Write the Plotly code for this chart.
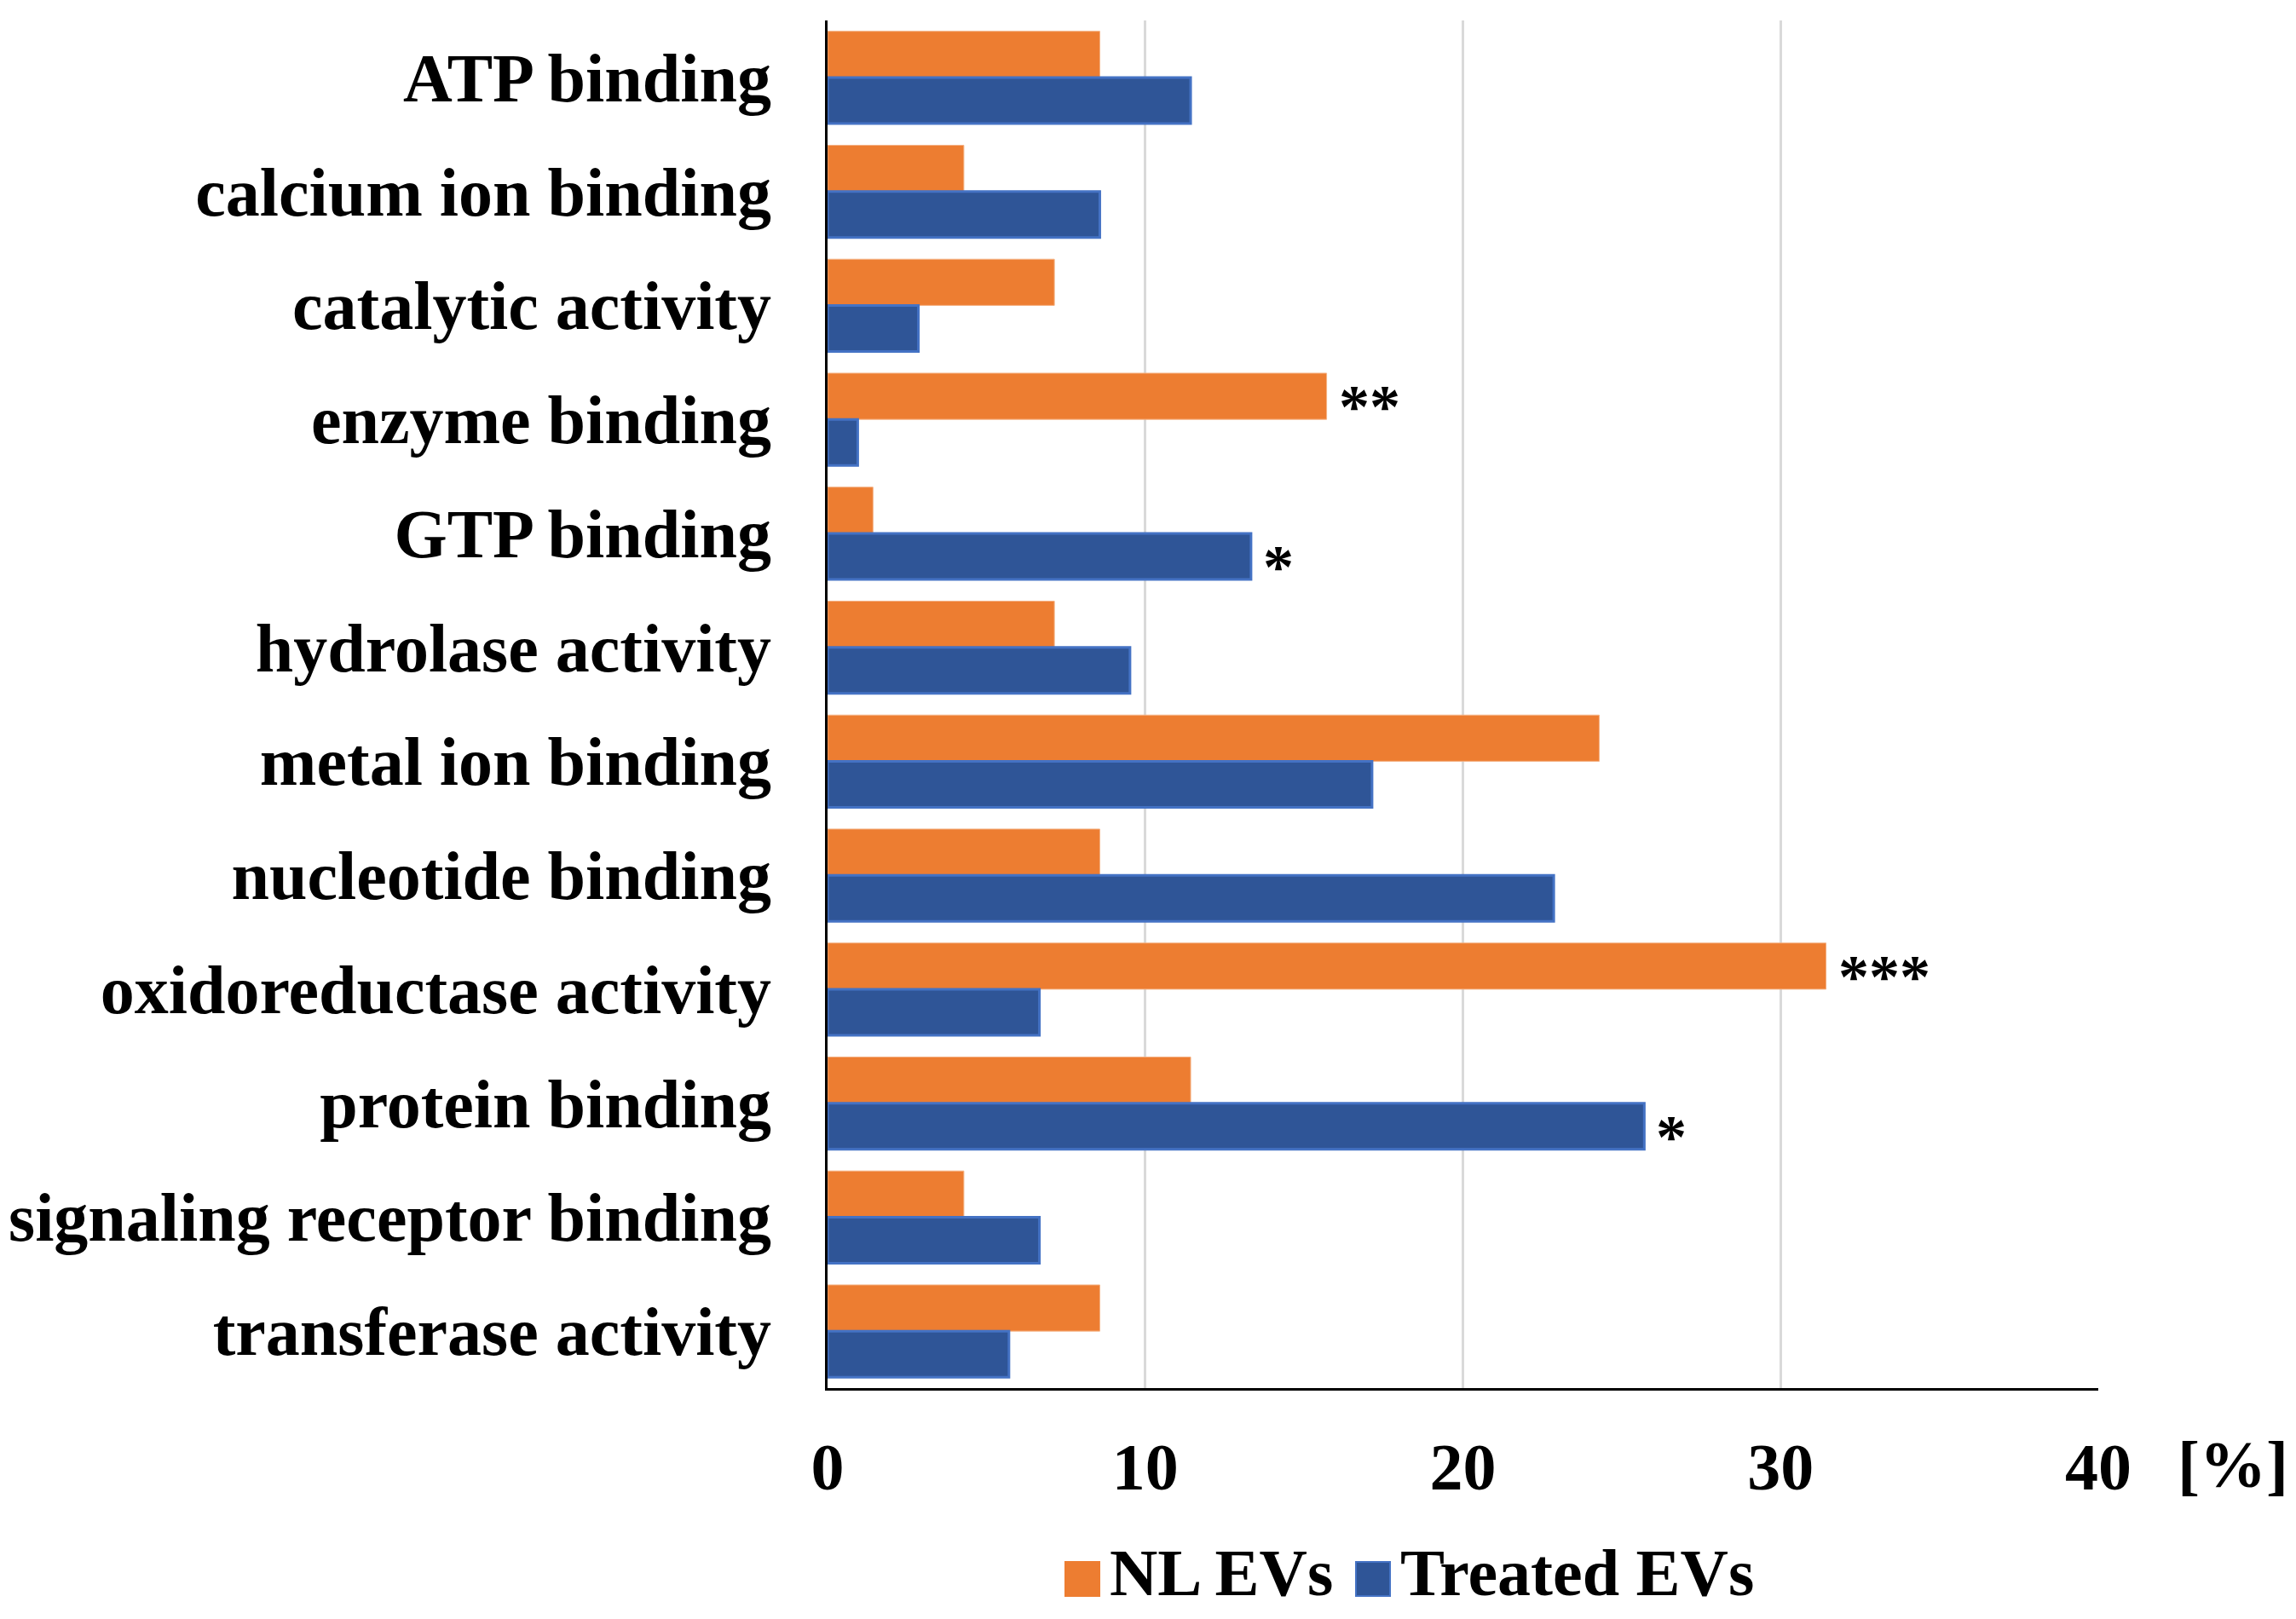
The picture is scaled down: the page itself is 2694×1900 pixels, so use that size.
import plotly.graph_objects as go

categories = ["ATP binding", "calcium ion binding", "catalytic activity", "enzyme binding",
              "GTP binding", "hydrolase activity", "metal ion binding", "nucleotide binding",
              "oxidoreductase activity", "protein binding", "signaling receptor binding",
              "transferase activity"]
nl_evs = [8.57, 4.29, 7.14, 15.71, 1.43, 7.14, 24.29, 8.57, 31.43, 11.43, 4.29, 8.57]
treated_evs = [11.43, 8.57, 2.86, 0.95, 13.33, 9.52, 17.14, 22.86, 6.67, 25.71, 6.67, 5.71]
sig_nl = ["", "", "", "**", "", "", "", "", "***", "", "", ""]
sig_treated = ["", "", "", "", "*", "", "", "", "", "*", "", ""]
x_ticks = [0, 10, 20, 30, 40]

OFF = 8  # default page body margin
W, H = 2694 - 2 * OFF, 1900 - 2 * OFF
L, R, T, B = 971 - OFF, 2462 - OFF, 24 - OFF, 1629 - OFF
FONT = "Liberation Serif"
ORANGE = "#ED7D31"
BLUE = "#2F5597"

def px(x):
    return (x - OFF - L) / (R - L)

def py(y):
    return (B - (y - OFF)) / (B - T)

fig = go.Figure()
fig.add_trace(go.Bar(y=categories, x=nl_evs, orientation="h", name="NL EVs",
                     marker=dict(color=ORANGE, line=dict(color="#F4B183", width=1))))
fig.add_trace(go.Bar(y=categories, x=treated_evs, orientation="h", name="Treated EVs",
                     marker=dict(color=BLUE, line=dict(color="#4472C4", width=3))))

off = 0.203
annotations = []
for i, (s, v) in enumerate(zip(sig_nl, nl_evs)):
    if s:
        annotations.append(dict(x=v, y=i - off, xref="x", yref="y", text="<b>" + s + "</b>",
                                showarrow=False, xanchor="left", yanchor="middle",
                                xshift=12, yshift=-12,
                                font=dict(family=FONT, size=72, color="black")))
for i, (s, v) in enumerate(zip(sig_treated, treated_evs)):
    if s:
        annotations.append(dict(x=v, y=i + off, xref="x", yref="y", text="<b>" + s + "</b>",
                                showarrow=False, xanchor="left", yanchor="middle",
                                xshift=12, yshift=-12,
                                font=dict(family=FONT, size=72, color="black")))

annotations.append(dict(x=px(2620), y=py(1718), xref="paper", yref="paper", text="<b>[%]</b>",
                        showarrow=False, xanchor="center", yanchor="middle",
                        font=dict(family=FONT, size=78, color="black")))

# manual legend
shapes = []
legend_items = [("NL EVs", ORANGE, None, 1250, 1300), ("Treated EVs", BLUE, "#4472C4", 1591, 1641)]
for name, col, lc, sx, tx in legend_items:
    shapes.append(dict(type="rect", xref="paper", yref="paper",
                       x0=px(sx), x1=px(sx + 40), y0=py(1873), y1=py(1833),
                       fillcolor=col, line=dict(color=lc if lc else col, width=2)))
    annotations.append(dict(x=px(tx), y=py(1891), xref="paper", yref="paper",
                            text="<b>" + name + "</b>", showarrow=False,
                            xanchor="left", yanchor="bottom",
                            font=dict(family=FONT, size=78, color="black")))

fig.update_layout(
    width=W, height=H,
    margin=dict(l=L, r=W - R, t=T, b=H - B, pad=0, autoexpand=False),
    paper_bgcolor="white", plot_bgcolor="white",
    barmode="group", bargap=0.19, bargroupgap=0,
    showlegend=False,
    font=dict(family=FONT, color="black"),
    annotations=annotations, shapes=shapes,
)
fig.update_xaxes(range=[0, 40], tickvals=x_ticks, ticktext=["<b>%d</b>" % t for t in x_ticks],
                 showgrid=True, gridcolor="#D9D9D9", gridwidth=3, automargin=False,
                 showline=True, linecolor="black", linewidth=3,
                 zeroline=False, ticks="", ticklabelstandoff=22,
                 tickfont=dict(family=FONT, size=78, color="black"))
fig.update_yaxes(categoryorder="array", categoryarray=categories, autorange="reversed",
                 tickvals=categories, ticktext=["<b>%s</b>" % c for c in categories],
                 showgrid=False, showline=True, linecolor="black", linewidth=3, automargin=False,
                 zeroline=False, ticks="", ticklabelstandoff=47,
                 tickfont=dict(family=FONT, size=80, color="black"))

fig.write_html("out.html")
